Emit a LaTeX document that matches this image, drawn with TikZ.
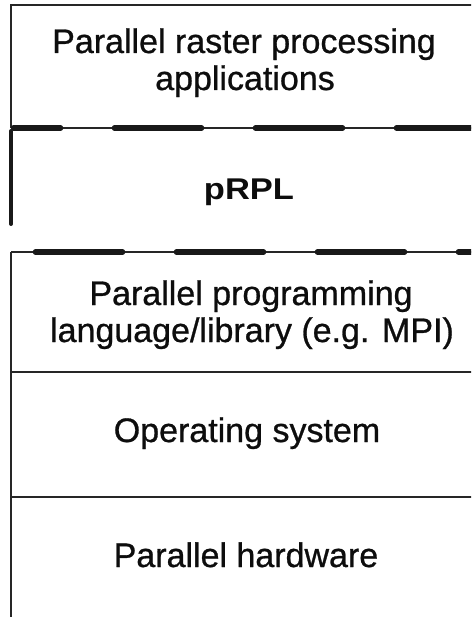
\documentclass[tikz,border=0pt]{standalone}
\usepackage{fontspec}
\setmainfont{Liberation Sans}[FakeBold=0.8]
\newfontfamily\widebold{Liberation Sans Bold}[FakeStretch=1.15]
\begin{document}
\begin{tikzpicture}[x=1pt,y=-1pt,
  rule/.style={line width=1.8pt, draw=black!85},
  thickdash/.style={line width=5.5pt, draw=black!90, line cap=round, dash pattern=on 87pt off 54pt},
  leftbar/.style={line width=4pt, draw=black!90, line cap=round},
  label/.style={text=black!95, inner sep=0pt, anchor=base, font=\fontsize{34}{37}\selectfont}]
\useasboundingbox (0,0) rectangle (471,617);
\clip (0,0) rectangle (471,617);
% top box
\draw[rule] (490,5) -- (11,5) -- (11,128);
% first dashed boundary
\draw[rule] (11,128) -- (490,128);
\draw[thickdash, dash phase=40pt] (13.5,128) -- (500,128);
\draw[leftbar] (11,131) -- (11,224);
% second dashed boundary
\draw[rule] (11,252) -- (490,252);
\draw[thickdash] (35.5,252) -- (500,252);
\draw[rule] (11,252) -- (11,620);
\draw[rule] (11,372) -- (490,372);
\draw[rule] (11,497) -- (490,497);
% labels
\node[label] (apps1) at (244,53) {Parallel raster processing};
\node[label] (apps2) at (245,90) {applications};
\node[label, font=\fontsize{30}{37}\selectfont\widebold] (prpl) at (249,200) {pRPL};
\node[label] (mpi1) at (251,305) {Parallel programming};
\node[label] (mpi2) at (252,342) {language/library (e.g. MPI)};
\node[label] (os) at (247,442) {Operating system};
\node[label] (hw) at (246,567) {Parallel hardware};
\end{tikzpicture}
\end{document}
